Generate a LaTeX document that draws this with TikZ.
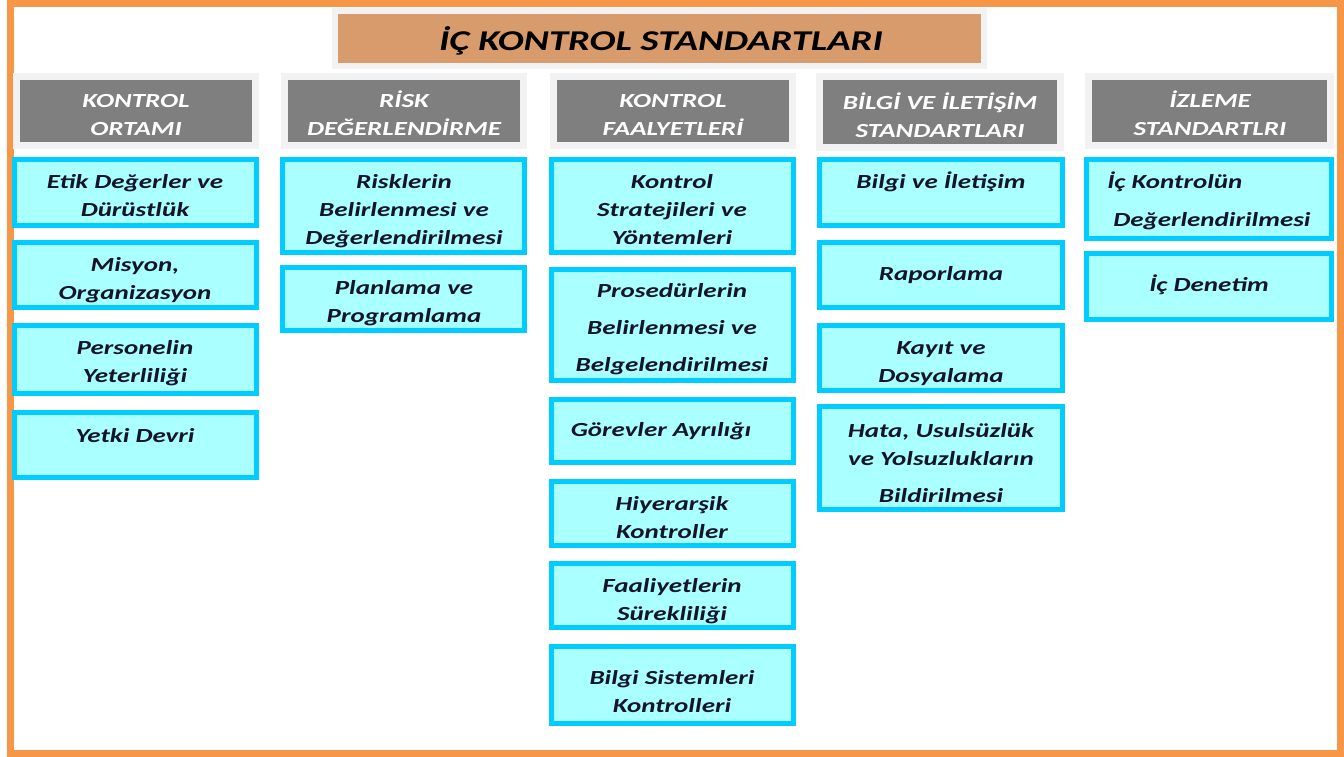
\documentclass[tikz,border=0pt]{standalone}
\usepackage{fontspec}
\setmainfont{Carlito}[FakeStretch=1.35]
\usetikzlibrary{fit,shadows}

\definecolor{turuncu}{HTML}{F79646}
\definecolor{tarcin}{HTML}{D89C6C}
\definecolor{acikgri}{HTML}{F2F2F2}
\definecolor{koyugri}{HTML}{7F7F7F}
\definecolor{camgobegi}{HTML}{00CCFF}
\definecolor{buz}{HTML}{AAFFFF}
\definecolor{murekkep}{HTML}{15152A}

\newdimen\px \px=0.75pt

\begin{document}
\begin{tikzpicture}[x=0.75pt, y=-0.75pt,
	baslik/.style={fill=tarcin, draw=acikgri, line width=6*\px, inner sep=0,
		drop shadow={shadow xshift=1pt, shadow yshift=-1.5pt, fill=tarcin!70!black, opacity=0.6}},
	sutun/.style={fill=koyugri, draw=acikgri, line width=7*\px, inner sep=0,
		drop shadow={shadow xshift=1.2pt, shadow yshift=-1.5pt, fill=black!35, opacity=0.6}},
	kutu/.style={fill=buz, draw=camgobegi, line width=5*\px, inner sep=0},
	yazi/.style={anchor=north, inner sep=0, align=center, yshift=10.2pt,
		text=murekkep, font=\fontsize{15}{21}\selectfont\bfseries\itshape},
	beyaz/.style={yazi, text=white}]

	\useasboundingbox (0,0) rectangle (1344,756);
	\fill[white] (0,0) rectangle (1344,756);
	\draw[turuncu, line width=7*\px] (10,4) rectangle (1340,753);

	% baslik
	\node[baslik, fit={(335,11) (984,66)}] (ana) {};
	\node[text=black, font=\fontsize{21.5}{24}\selectfont\bfseries\itshape] (ana-y) at (661,41) {İÇ KONTROL STANDARTLARI};

	% sutun basliklari
	\node[sutun, fit={(16.5,76.5) (255.5,145.5)}] (ortam) {};
	\node[sutun, fit={(284.5,76.5) (523.5,145.5)}] (risk) {};
	\node[sutun, fit={(553.5,76.5) (792.5,145.5)}] (faaliyet) {};
	\node[sutun, fit={(819.5,76.5) (1060.5,147.5)}] (bilgi) {};
	\node[sutun, fit={(1088.5,76.5) (1330.5,145.5)}] (izleme) {};

	\node[beyaz] (ortam-y) at (136,101) {\strut KONTROL\\ORTAMI};
	\node[beyaz] (risk-y) at (404,101) {\strut RİSK\\DEĞERLENDİRME};
	\node[beyaz] (faaliyet-y) at (673,101) {\strut KONTROL\\FAALYETLERİ};
	\node[beyaz] (bilgi-y) at (940,103) {\strut BİLGİ VE İLETİŞİM\\STANDARTLARI};
	\node[beyaz] (izleme-y) at (1210,101) {\strut İZLEME\\STANDARTLRI};

	% kontrol ortami
	\node[kutu, fit={(14.5,159.5) (256.5,225.5)}] (etik) {};
	\node[kutu, fit={(14.5,242.5) (256.5,307.5)}] (misyon) {};
	\node[kutu, fit={(14.5,325.5) (256.5,393.5)}] (personel) {};
	\node[kutu, fit={(14.5,412.5) (256.5,477.5)}] (yetki) {};
	\node[yazi] (etik-y) at (135,182) {\strut Etik Değerler ve\\Dürüstlük};
	\node[yazi] (misyon-y) at (135,265) {\strut Misyon,\\Organizasyon};
	\node[yazi] (personel-y) at (135,348) {\strut Personelin\\Yeterliliği};
	\node[yazi] (yetki-y) at (135,436) {\strut Yetki Devri};

	% risk degerlendirme
	\node[kutu, fit={(282.5,159.5) (524.5,252.5)}] (belirleme) {};
	\node[kutu, fit={(282.5,267.5) (524.5,330.5)}] (plan) {};
	\node[yazi] (belirleme-y) at (404,182) {\strut Risklerin\\Belirlenmesi ve\\Değerlendirilmesi};
	\node[yazi] (plan-y) at (404,288) {\strut Planlama ve\\Programlama};

	% kontrol faaliyetleri
	\node[kutu, fit={(551.5,159.5) (793.5,252.5)}] (strateji) {};
	\node[kutu, fit={(551.5,269.5) (793.5,380.5)}] (prosedur) {};
	\node[kutu, fit={(551.5,399.5) (793.5,462.5)}] (gorev) {};
	\node[kutu, fit={(551.5,481.5) (793.5,545.5)}] (hiyerarsi) {};
	\node[kutu, fit={(551.5,563.5) (793.5,627.5)}] (sureklilik) {};
	\node[kutu, fit={(551.5,646.5) (793.5,723.5)}] (sistem) {};
	\node[yazi] (strateji-y) at (672,182) {\strut Kontrol\\Stratejileri ve\\Yöntemleri};
	\node[yazi] (prosedur-y) at (672,291) {\strut Prosedürlerin\\[6.75pt]Belirlenmesi ve\\[6.75pt]Belgelendirilmesi};
	\node[yazi] (gorev-y) at (661,430) {\strut Görevler Ayrılığı};
	\node[yazi] (hiyerarsi-y) at (672,504) {\strut Hiyerarşik\\Kontroller};
	\node[yazi] (sureklilik-y) at (672,586) {\strut Faaliyetlerin\\Sürekliliği};
	\node[yazi] (sistem-y) at (672,678) {\strut Bilgi Sistemleri\\Kontrolleri};

	% bilgi ve iletisim
	\node[kutu, fit={(819.5,159.5) (1062.5,225.5)}] (iletisim) {};
	\node[kutu, fit={(819.5,242.5) (1062.5,307.5)}] (rapor) {};
	\node[kutu, fit={(819.5,325.5) (1062.5,390.5)}] (kayit) {};
	\node[kutu, fit={(819.5,406.5) (1062.5,509.5)}] (hata) {};
	\node[yazi] (iletisim-y) at (941,182) {\strut Bilgi ve İletişim};
	\node[yazi] (rapor-y) at (941,274) {\strut Raporlama};
	\node[yazi] (kayit-y) at (941,348) {\strut Kayıt ve\\Dosyalama};
	\node[yazi] (hata-y) at (941,431) {\strut Hata, Usulsüzlük\\ve Yolsuzlukların\\[6.75pt]Bildirilmesi};

	% izleme
	\node[kutu, fit={(1086.5,159.5) (1331.5,238.5)}] (degerlendirme) {};
	\node[kutu, fit={(1086.5,253.5) (1331.5,319.5)}] (denetim) {};
	\node[yazi, anchor=north west, align=left] (degerlendirme-y) at (1107,182) {\strut İç Kontrolün\\[7.5pt]\hspace*{4.5pt}Değerlendirilmesi};
	\node[yazi] (denetim-y) at (1209,285) {\strut İç Denetim};
\end{tikzpicture}
\end{document}
